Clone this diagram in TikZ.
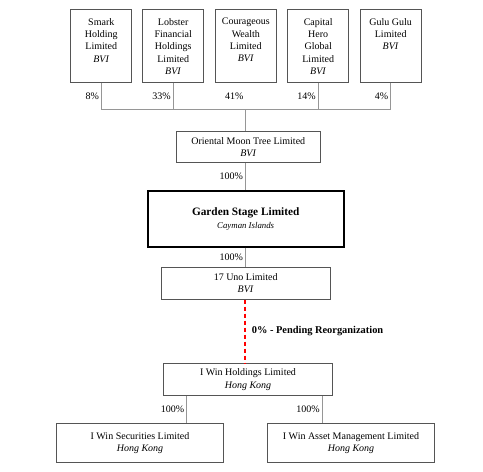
\documentclass[tikz,border=0pt]{standalone}
\usepackage{fontspec}
\setmainfont{Liberation Serif}
\usetikzlibrary{positioning}
\definecolor{boxgray}{RGB}{85,85,85}
\definecolor{linegray}{RGB}{150,150,150}
\tikzset{
  every node/.style={font=\fontsize{10}{12.4}\selectfont
  },
  topbox/.style={
    draw=boxgray, rectangle, minimum width=61pt, minimum height=73pt, line width=0.8pt, inner sep=0pt
  },
  toptext/.style={
    anchor=north, align=center, yshift=-6pt, inner sep=3pt
  },
  entbox/.style={
    draw=boxgray, rectangle, line width=0.8pt, align=center, inner sep=0pt
  },
  mainbox/.style={
    draw=black, rectangle, line width=1.6pt, align=center, inner sep=0pt,
    minimum width=196pt, minimum height=56pt
  },
  link/.style={draw=linegray, line width=0.8pt},
  pct/.style={inner sep=2pt},
  reorg/.style={draw=red, line width=1.8pt, dash pattern=on 4.5pt off 2.5pt}
}

\begin{document}
\begin{tikzpicture}[x=1pt,y=-1pt]
   \useasboundingbox (0,0) rectangle (483,472);

   \node[topbox, label={[toptext]north:Smark\\Holding\\Limited\\\textit{BVI}}] (smark) at (101.3,45.8) {};
   \node[topbox, label={[toptext]north:Lobster\\Financial\\Holdings\\Limited\\\textit{BVI}}] (lobster) at (173.2,45.8) {};
   \node[topbox, label={[toptext]north:Courageous\\Wealth\\Limited\\\textit{BVI}}] (courage) at (245.8,45.8) {};
   \node[topbox, label={[toptext]north:Capital\\Hero\\Global\\Limited\\\textit{BVI}}] (capital) at (318.2,45.8) {};
   \node[topbox, label={[toptext]north:Gulu Gulu\\Limited\\\textit{BVI}}] (gulu) at (390.7,45.8) {};

   \coordinate (bus) at (245.3,109.3);
   \draw[link] (smark.south) |- node[pct, left, pos=0.25] {8\%} (bus);
   \draw[link] (lobster.south) |- node[pct, left, pos=0.25] {33\%} (bus);
   \path (courage.south) -- node[pct, left] {41\%} (bus);
   \draw[link] (capital.south) |- node[pct, left, pos=0.25] {14\%} (bus);
   \draw[link] (gulu.south) |- node[pct, left, pos=0.25] {4\%} (bus);

   \node[entbox, minimum width=144pt, minimum height=30.6pt] (oriental) at (248.3,147) {Oriental Moon Tree Limited\\\textit{BVI}};
   \node[mainbox, font=\fontsize{11}{13.3}\selectfont] (garden) at (245.7,218.7) {\textbf{\fontsize{11.3}{13.3}\selectfont Garden Stage Limited}\\{\fontsize{8.8}{13.3}\selectfont\itshape Cayman Islands}};
   \node[entbox, minimum width=168.7pt, minimum height=32pt] (uno) at (245.7,283.3) {17 Uno Limited\\\textit{BVI}};
   \node[entbox, minimum width=169.4pt, minimum height=32.4pt] (iwin) at (248,379.5) {I Win Holdings Limited\\\textit{Hong Kong}};
   \node[entbox, minimum width=167.4pt, minimum height=39.4pt] (isec) at (140,443) {I Win Securities Limited\\\textit{Hong Kong}};
   \node[entbox, minimum width=167.4pt, minimum height=39.4pt] (iasset) at (351,443) {I Win Asset Management Limited\\\textit{Hong Kong}};

   \draw[link] (bus) -- (oriental.north -| bus);
   \draw[link] (oriental.south -| bus) -- node[pct, left] {100\%} (garden.north -| bus);
   \draw[link] (garden.south -| bus) -- node[pct, left] {100\%} (uno.north -| bus);
   \draw[reorg] (uno.south -| bus) -- (iwin.north -| bus);
   \path (uno.south -| bus) -- node[right, xshift=3pt, font=\fontsize{10.4}{12}\selectfont\bfseries] (reorglabel) {0\% - Pending Reorganization} (iwin.north -| bus);

   \coordinate (secdrop) at (186.7,0);
   \coordinate (assetdrop) at (322,0);
   \draw[link] (iwin.south -| secdrop) -- node[pct, left] {100\%} (isec.north -| secdrop);
   \draw[link] (iwin.south -| assetdrop) -- node[pct, left] {100\%} (iasset.north -| assetdrop);
\end{tikzpicture}
\end{document}
